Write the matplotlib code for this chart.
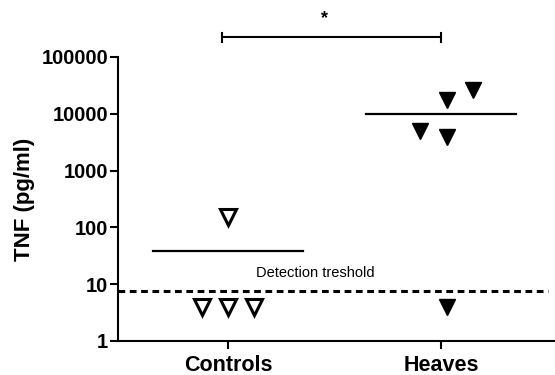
import matplotlib
matplotlib.use("Agg")
import matplotlib.pyplot as plt

plt.rcParams['font.family'] = ['Liberation Sans', 'DejaVu Sans']

categories = ["Controls", "Heaves"]
controls_vals = [152, 4, 4, 4]
controls_offsets = [0.0, -0.12, 0.0, 0.12]
heaves_vals = [17400, 26000, 5000, 3900, 4]
heaves_offsets = [0.03, 0.15, -0.1, 0.03, 0.03]
group_means = [38, 10000]
detection_threshold = 7.6
ytick_vals = [1, 10, 100, 1000, 10000, 100000]
ytick_labels = ["1", "10", "100", "1000", "10000", "100000"]

fig = plt.figure(figsize=(5.55, 3.75), dpi=100)
ax = fig.add_axes([118/555, 34/375, 1 - 118/555, (341-57)/375])
ax.set_yscale('log')
ax.set_ylim(1, 1e5)
ax.set_xlim(-0.516, 1.535)

# threshold
ax.plot([-0.516, 1.5], [detection_threshold]*2, color='black', lw=2.2,
        linestyle=(0, (2.2, 1.5)), solid_capstyle='butt', dash_capstyle='butt')
ax.text(0.41, 15.8, "Detection treshold", ha='center', va='center', fontsize=10.5)

# means
for i, m in enumerate(group_means):
    ax.plot([i - 0.35, i + 0.35], [m, m], color='black', lw=1.6)

# points
ax.plot([0 + o for o in controls_offsets], controls_vals, linestyle='none', marker='v',
        markersize=11, markerfacecolor='white', markeredgecolor='black', markeredgewidth=2.2)
ax.plot([1 + o for o in heaves_offsets], heaves_vals, linestyle='none', marker='v',
        markersize=12, markerfacecolor='black', markeredgecolor='black')

# significance bracket
yb = 10**5.35
ax.plot([-0.03, 1.0], [yb, yb], color='black', lw=1.5, clip_on=False)
for xx in [-0.03, 1.0]:
    ax.plot([xx, xx], [10**5.27, 10**5.43], color='black', lw=1.5, clip_on=False)
ax.text(0.455, 10**5.68, "*", ha='center', va='center', fontsize=13, fontweight='bold')

ax.set_xticks([0, 1])
ax.set_xticklabels(categories, fontsize=15.5, fontweight='bold')
ax.set_yticks(ytick_vals)
ax.set_yticklabels(ytick_labels, fontsize=14.5, fontweight='bold')
ax.minorticks_off()
ax.yaxis.set_minor_locator(matplotlib.ticker.NullLocator())
ax.tick_params(axis='y', width=1.5, length=6, pad=1)
ax.tick_params(axis='x', width=1.5, length=6, pad=4)
ax.set_ylabel("TNF (pg/ml)", fontsize=16, fontweight='bold', labelpad=5)

for s in ['top', 'right']:
    ax.spines[s].set_visible(False)
for s in ['left', 'bottom']:
    ax.spines[s].set_linewidth(1.5)

fig.savefig("out.png", dpi=100)
